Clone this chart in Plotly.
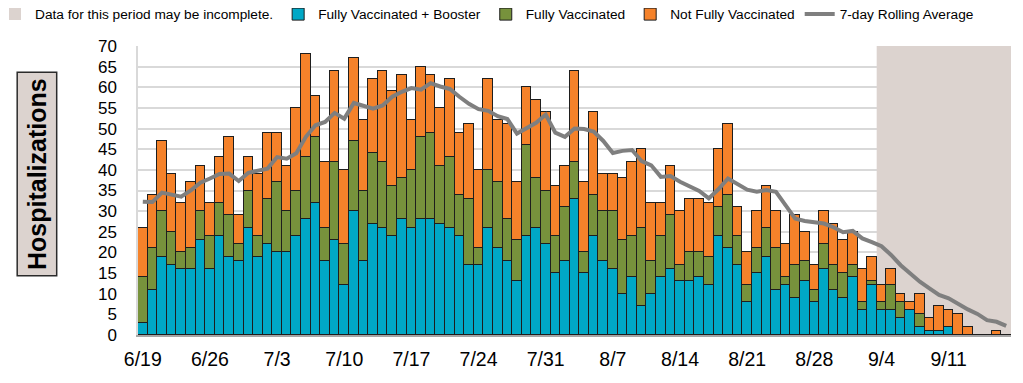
import pandas as pd
import plotly.graph_objects as go

dates = pd.date_range("2022-06-19", periods=91, freq="D")

booster = [3, 11, 19, 17, 16, 16, 23, 16, 24, 19, 18, 26, 19, 22, 20, 20, 24, 28, 32, 18,
           23, 12, 30, 18, 27, 26, 24, 28, 26, 28, 28, 27, 26, 24, 17, 17, 26, 21, 18, 13,
           24, 26, 22, 15, 18, 33, 15, 24, 18, 16, 10, 14, 7, 10, 14, 16, 13, 13, 14, 12,
           24, 21, 17, 8, 15, 19, 11, 12, 9, 13, 8, 16, 11, 9, 14, 6, 12, 6, 6, 4,
           6, 2, 1, 1, 2, 0, 0, 0, 0, 0, 0]
fully = [11, 10, 11, 8, 4, 5, 7, 8, 8, 10, 4, 9, 5, 11, 17, 10, 11, 15, 16, 8,
         19, 10, 17, 17, 17, 16, 12, 10, 14, 20, 21, 14, 17, 10, 16, 4, 14, 16, 10, 10,
         22, 12, 13, 9, 13, 9, 5, 10, 12, 14, 13, 10, 19, 8, 10, 13, 4, 7, 6, 7,
         7, 13, 7, 4, 6, 7, 10, 2, 8, 5, 3, 6, 6, 6, 3, 2, 1, 2, 6, 4,
         0, 3, 0, 0, 0, 0, 0, 0, 0, 0, 0]
not_fully = [12, 13, 17, 14, 12, 16, 11, 8, 11, 19, 7, 8, 15, 16, 12, 11, 20, 25, 10, 16,
             22, 18, 20, 17, 18, 22, 23, 25, 12, 17, 14, 14, 19, 15, 18, 19, 22, 15, 23, 14,
             14, 19, 19, 12, 10, 22, 17, 20, 9, 9, 15, 18, 19, 14, 8, 12, 13, 13, 13, 13,
             14, 17, 7, 8, 9, 10, 9, 8, 12, 7, 6, 8, 10, 8, 8, 8, 6, 4, 4, 2,
             2, 5, 3, 6, 4, 5, 2, 0, 0, 1, 0]
rolling = [32.3, 32.2, 34.5, 34.0, 33.5, 35.0, 36.9, 37.9, 39.0, 39.1, 37.3, 39.3, 39.8, 40.3, 43.1,
           42.7, 44.0, 48.0, 50.8, 51.6, 53.8, 52.4, 56.2, 55.6, 54.8, 55.6, 57.7, 58.9, 59.8, 59.4,
           61.0, 60.2, 59.6, 57.7, 56.0, 54.7, 54.3, 53.0, 52.3, 48.8, 50.2, 51.4, 53.4, 49.0, 48.0,
           50.0, 49.9, 49.3, 47.0, 44.1, 44.6, 44.8, 42.1, 41.1, 38.3, 38.5, 37.1, 36.1, 34.9, 33.1,
           35.3, 37.9, 36.5, 35.2, 34.7, 35.1, 34.7, 31.5, 28.2, 27.6, 27.2, 27.0, 26.1, 24.9, 25.2,
           23.4, 22.5, 21.5, 19.4, 16.9, 14.9, 12.9, 11.3, 9.7, 8.9, 7.5, 6.2, 5.1, 3.6, 3.2, 2.2]

incomplete_start = "2022-09-04"
tick_start = "2022-06-19"

REG = "Liberation Sans, Arial, sans-serif"
edge = dict(color="#1e1e1e", width=1)

fig = go.Figure()
fig.add_trace(go.Bar(x=[dates[0]], y=[None], name="Data for this period may be incomplete.",
                     marker=dict(color="#dcd3cf", line=dict(width=0)), hoverinfo="skip"))
fig.add_trace(go.Bar(x=dates, y=booster, name="Fully Vaccinated + Booster",
                     marker=dict(color="#00a8c6", line=edge)))
fig.add_trace(go.Bar(x=dates, y=fully, name="Fully Vaccinated",
                     marker=dict(color="#77923c", line=edge)))
fig.add_trace(go.Bar(x=dates, y=not_fully, name="Not Fully Vaccinated",
                     marker=dict(color="#f5822a", line=edge)))
fig.add_trace(go.Scatter(x=dates, y=rolling, name="7-day Rolling Average", mode="lines",
                         line=dict(color="#7f7f7f", width=4)))

half_day = pd.Timedelta(hours=12)
fig.add_shape(type="rect", xref="x", yref="y",
              x0=pd.Timestamp(incomplete_start) - half_day, x1=dates[-1] + half_day,
              y0=0, y1=70, fillcolor="#dcd3cf", line=dict(width=0), layer="between")

fig.add_annotation(text="<b>Hospitalizations</b>", textangle=-90, xref="paper", yref="paper",
                   x=-0.1163, y=0.557, xanchor="center", yanchor="middle", showarrow=False,
                   font=dict(family=REG, size=25, color="#000000"),
                   bgcolor="#dcd3cf", bordercolor="#2b2b2b", borderwidth=1.5, borderpad=5)

fig.update_layout(
    width=1015, height=375,
    margin=dict(l=130, r=12, t=38, b=48, autoexpand=False),
    paper_bgcolor="white", plot_bgcolor="white",
    barmode="stack", bargap=0,
    showlegend=True,
    legend=dict(orientation="h", x=-0.1638, xanchor="left", y=1.11, yanchor="middle",
                font=dict(family=REG, size=13.7, color="#000000"),
                traceorder="normal", itemwidth=30, tracegroupgap=0, bgcolor="rgba(0,0,0,0)"),
    xaxis=dict(type="date", range=[dates[0] - half_day, dates[-1] + half_day],
               tick0=tick_start, dtick=7 * 86400000, tickformat="%-m/%-d",
               showgrid=False, showline=True, linecolor="#a6a6a6", linewidth=2,
               ticks="outside", ticklen=6, tickcolor="rgba(0,0,0,0)",
               tickfont=dict(family=REG, size=19.5, color="#000000")),
    yaxis=dict(range=[0, 70], dtick=5, showgrid=True, gridcolor="#d9d9d9", gridwidth=2,
               showline=True, linecolor="#d9d9d9", linewidth=1.5, zeroline=False,
               ticks="outside", ticklen=16, tickcolor="rgba(0,0,0,0)",
               tickfont=dict(family=REG, size=17, color="#000000")),
)

fig.write_html("out.html")
